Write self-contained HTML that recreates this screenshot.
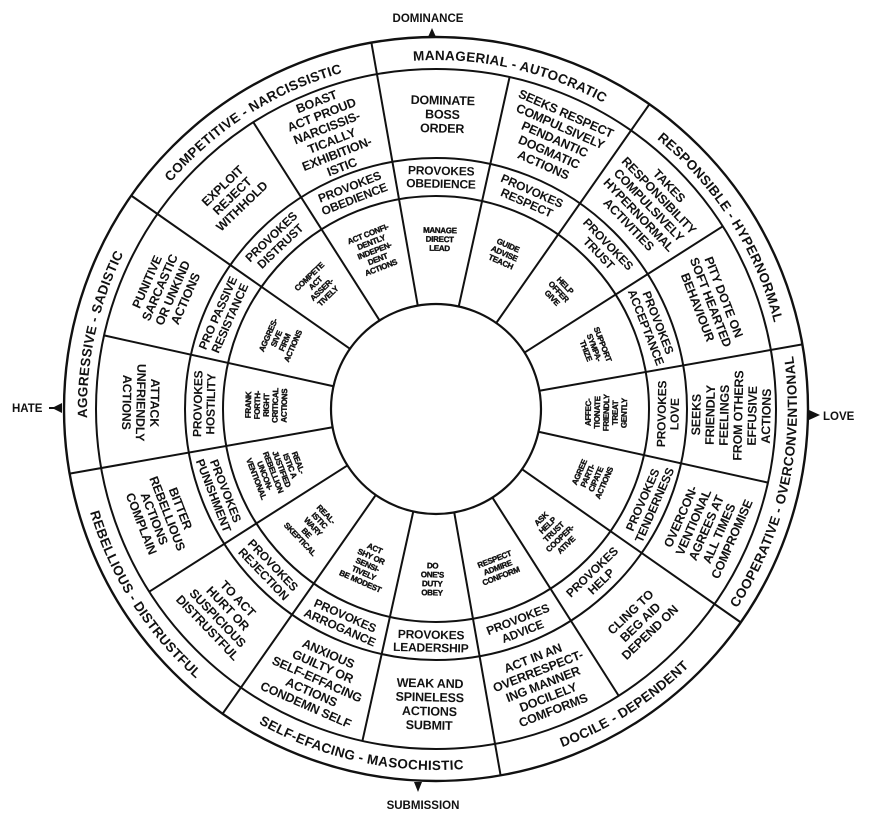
<!DOCTYPE html>
<html><head><meta charset="utf-8"><style>
html,body{margin:0;padding:0;background:#fff;}
svg{display:block;}
text{font-family:"Liberation Sans",Arial,sans-serif;font-weight:bold;fill:#111;}
.o{font-size:12.5px;letter-spacing:-0.2px;}
.p{font-size:12px;letter-spacing:-0.2px;}
.i{font-size:8px;letter-spacing:-0.3px;stroke:#111;stroke-width:0.35px;}
.b{font-size:13.5px;letter-spacing:0.3px;}
.ax{font-size:11.5px;}
</style></head><body>
<svg width="874" height="813" viewBox="0 0 874 813" xmlns="http://www.w3.org/2000/svg">
<rect width="874" height="813" fill="#fff"/>
<text class="ax" x="428" y="22" text-anchor="middle">DOMINANCE</text>
<polygon points="432,28 428,37 436,37" fill="#111"/>
<text class="ax" x="423" y="809" text-anchor="middle">SUBMISSION</text>
<polygon points="418,792 414,782 422,782" fill="#111"/>
<text class="ax" x="12" y="412">HATE</text>
<line x1="49" y1="408" x2="60" y2="408" stroke="#111" stroke-width="2"/>
<polygon points="52,408 62,403 62,413" fill="#111"/>
<text class="ax" x="823" y="420">LOVE</text>
<polygon points="820,415 809,410 809,420" fill="#111"/>

<g transform="translate(436 409)" stroke="#111" fill="none">
<circle r="372" stroke-width="2.4"/>
<circle r="340" stroke-width="2"/>
<circle r="251" stroke-width="2"/>
<circle r="213" stroke-width="2"/>
<circle r="105" stroke-width="2.2"/>
<g stroke-width="2">
<line x1="0" y1="-105" x2="0" y2="-372" transform="rotate(-10)"/>
<line x1="0" y1="-105" x2="0" y2="-340" transform="rotate(12.5)"/>
<line x1="0" y1="-105" x2="0" y2="-372" transform="rotate(35)"/>
<line x1="0" y1="-105" x2="0" y2="-340" transform="rotate(57.5)"/>
<line x1="0" y1="-105" x2="0" y2="-372" transform="rotate(80)"/>
<line x1="0" y1="-105" x2="0" y2="-340" transform="rotate(102.5)"/>
<line x1="0" y1="-105" x2="0" y2="-372" transform="rotate(125)"/>
<line x1="0" y1="-105" x2="0" y2="-340" transform="rotate(147.5)"/>
<line x1="0" y1="-105" x2="0" y2="-372" transform="rotate(170)"/>
<line x1="0" y1="-105" x2="0" y2="-340" transform="rotate(192.5)"/>
<line x1="0" y1="-105" x2="0" y2="-372" transform="rotate(215)"/>
<line x1="0" y1="-105" x2="0" y2="-340" transform="rotate(237.5)"/>
<line x1="0" y1="-105" x2="0" y2="-372" transform="rotate(260)"/>
<line x1="0" y1="-105" x2="0" y2="-340" transform="rotate(282.5)"/>
<line x1="0" y1="-105" x2="0" y2="-372" transform="rotate(305)"/>
<line x1="0" y1="-105" x2="0" y2="-340" transform="rotate(327.5)"/>
</g>
</g>

<defs>
<path id="cw" d="M 0,349 A 349 349 0 1 1 0,-349 A 349 349 0 1 1 0,349"/>
<path id="ccw" d="M 0,-361 A 361 361 0 1 0 0,361 A 361 361 0 1 0 0,-361"/>
</defs>

<g transform="translate(436 409)">
<g transform="rotate(12.5)"><text class="b"><textPath href="#cw" startOffset="50%" text-anchor="middle">MANAGERIAL - AUTOCRATIC</textPath></text></g>
<g transform="rotate(57.5)"><text class="b"><textPath href="#cw" startOffset="50%" text-anchor="middle">RESPONSIBLE - HYPERNORMAL</textPath></text></g>
<g transform="rotate(-77.5)"><text class="b"><textPath href="#ccw" startOffset="50%" text-anchor="middle">COOPERATIVE - OVERCONVENTIONAL</textPath></text></g>
<g transform="rotate(-32.5)"><text class="b"><textPath href="#ccw" startOffset="50%" text-anchor="middle">DOCILE - DEPENDENT</textPath></text></g>
<g transform="rotate(12.5)"><text class="b"><textPath href="#ccw" startOffset="50%" text-anchor="middle">SELF-EFACING - MASOCHISTIC</textPath></text></g>
<g transform="rotate(57.5)"><text class="b"><textPath href="#ccw" startOffset="50%" text-anchor="middle">REBELLIOUS - DISTRUSTFUL</textPath></text></g>
<g transform="rotate(282.5)"><text class="b"><textPath href="#cw" startOffset="50%" text-anchor="middle">AGGRESSIVE - SADISTIC</textPath></text></g>
<g transform="rotate(327.5)"><text class="b"><textPath href="#cw" startOffset="50%" text-anchor="middle">COMPETITIVE - NARCISSISTIC</textPath></text></g>

<g transform="rotate(1.25) translate(0 -295)"><text class="o" text-anchor="middle" y="-9.5"><tspan x="0">DOMINATE</tspan><tspan x="0" dy="14">BOSS</tspan><tspan x="0" dy="14">ORDER</tspan></text></g>
<g transform="rotate(1.25) translate(0 -232)"><text class="p" text-anchor="middle" y="-2.2"><tspan x="0">PROVOKES</tspan><tspan x="0" dy="13">OBEDIENCE</tspan></text></g>
<g transform="rotate(1.25) translate(0 -170)"><text class="i" text-anchor="middle" y="-6.1"><tspan x="0">MANAGE</tspan><tspan x="0" dy="9">DIRECT</tspan><tspan x="0" dy="9">LEAD</tspan></text></g>
<g transform="rotate(23.75) translate(0 -295)"><text class="o" text-anchor="middle" y="-23.5"><tspan x="0">SEEKS RESPECT</tspan><tspan x="0" dy="14">COMPULSIVELY</tspan><tspan x="0" dy="14">PENDANTIC</tspan><tspan x="0" dy="14">DOGMATIC</tspan><tspan x="0" dy="14">ACTIONS</tspan></text></g>
<g transform="rotate(23.75) translate(0 -232)"><text class="p" text-anchor="middle" y="-2.2"><tspan x="0">PROVOKES</tspan><tspan x="0" dy="13">RESPECT</tspan></text></g>
<g transform="rotate(23.75) translate(0 -170)"><text class="i" text-anchor="middle" y="-6.1"><tspan x="0">GUIDE</tspan><tspan x="0" dy="9">ADVISE</tspan><tspan x="0" dy="9">TEACH</tspan></text></g>
<g transform="rotate(46.25) translate(0 -295)"><text class="o" text-anchor="middle" y="-23.5"><tspan x="0">TAKES</tspan><tspan x="0" dy="14">RESPONSIBILITY</tspan><tspan x="0" dy="14">COMPULSIVELY</tspan><tspan x="0" dy="14">HYPERNORMAL</tspan><tspan x="0" dy="14">ACTIVITIES</tspan></text></g>
<g transform="rotate(46.25) translate(0 -232)"><text class="p" text-anchor="middle" y="-2.2"><tspan x="0">PROVOKES</tspan><tspan x="0" dy="13">TRUST</tspan></text></g>
<g transform="rotate(46.25) translate(0 -170)"><text class="i" text-anchor="middle" y="-6.1"><tspan x="0">HELP</tspan><tspan x="0" dy="9">OFFER</tspan><tspan x="0" dy="9">GIVE</tspan></text></g>
<g transform="rotate(68.75) translate(0 -295)"><text class="o" text-anchor="middle" y="-9.5"><tspan x="0">PITY DOTE ON</tspan><tspan x="0" dy="14">SOFT HEARTED</tspan><tspan x="0" dy="14">BEHAVIOUR</tspan></text></g>
<g transform="rotate(68.75) translate(0 -232)"><text class="p" text-anchor="middle" y="-2.2"><tspan x="0">PROVOKES</tspan><tspan x="0" dy="13">ACCEPTANCE</tspan></text></g>
<g transform="rotate(68.75) translate(0 -170)"><text class="i" text-anchor="middle" y="-6.1"><tspan x="0">SUPPORT</tspan><tspan x="0" dy="9">SYMPA-</tspan><tspan x="0" dy="9">THIZE</tspan></text></g>
<g transform="rotate(91.25) translate(0 -295) rotate(180)"><text class="o" text-anchor="middle" y="-30.5"><tspan x="0">SEEKS</tspan><tspan x="0" dy="14">FRIENDLY</tspan><tspan x="0" dy="14">FEELINGS</tspan><tspan x="0" dy="14">FROM OTHERS</tspan><tspan x="0" dy="14">EFFUSIVE</tspan><tspan x="0" dy="14">ACTIONS</tspan></text></g>
<g transform="rotate(91.25) translate(0 -232) rotate(180)"><text class="p" text-anchor="middle" y="-2.2"><tspan x="0">PROVOKES</tspan><tspan x="0" dy="13">LOVE</tspan></text></g>
<g transform="rotate(91.25) translate(0 -170) rotate(180)"><text class="i" text-anchor="middle" y="-15.1"><tspan x="0">AFFEC-</tspan><tspan x="0" dy="9">TIONATE</tspan><tspan x="0" dy="9">FRIENDLY</tspan><tspan x="0" dy="9">TREAT</tspan><tspan x="0" dy="9">GENTLY</tspan></text></g>
<g transform="rotate(113.75) translate(0 -295) rotate(180)"><text class="o" text-anchor="middle" y="-23.5"><tspan x="0">OVERCON-</tspan><tspan x="0" dy="14">VENTIONAL</tspan><tspan x="0" dy="14">AGREES AT</tspan><tspan x="0" dy="14">ALL TIMES</tspan><tspan x="0" dy="14">COMPROMISE</tspan></text></g>
<g transform="rotate(113.75) translate(0 -232) rotate(180)"><text class="p" text-anchor="middle" y="-2.2"><tspan x="0">PROVOKES</tspan><tspan x="0" dy="13">TENDERNESS</tspan></text></g>
<g transform="rotate(113.75) translate(0 -170) rotate(180)"><text class="i" text-anchor="middle" y="-10.6"><tspan x="0">AGREE</tspan><tspan x="0" dy="9">PARTI-</tspan><tspan x="0" dy="9">CIPATE</tspan><tspan x="0" dy="9">ACTIONS</tspan></text></g>
<g transform="rotate(136.25) translate(0 -295) rotate(180)"><text class="o" text-anchor="middle" y="-9.5"><tspan x="0">CLING TO</tspan><tspan x="0" dy="14">BEG AID</tspan><tspan x="0" dy="14">DEPEND ON</tspan></text></g>
<g transform="rotate(136.25) translate(0 -232) rotate(180)"><text class="p" text-anchor="middle" y="-2.2"><tspan x="0">PROVOKES</tspan><tspan x="0" dy="13">HELP</tspan></text></g>
<g transform="rotate(136.25) translate(0 -170) rotate(180)"><text class="i" text-anchor="middle" y="-15.1"><tspan x="0">ASK</tspan><tspan x="0" dy="9">HELP</tspan><tspan x="0" dy="9">TRUST</tspan><tspan x="0" dy="9">COOPER-</tspan><tspan x="0" dy="9">ATIVE</tspan></text></g>
<g transform="rotate(158.75) translate(0 -295) rotate(180)"><text class="o" text-anchor="middle" y="-23.5"><tspan x="0">ACT IN AN</tspan><tspan x="0" dy="14">OVERRESPECT-</tspan><tspan x="0" dy="14">ING MANNER</tspan><tspan x="0" dy="14">DOCILELY</tspan><tspan x="0" dy="14">COMFORMS</tspan></text></g>
<g transform="rotate(158.75) translate(0 -232) rotate(180)"><text class="p" text-anchor="middle" y="-2.2"><tspan x="0">PROVOKES</tspan><tspan x="0" dy="13">ADVICE</tspan></text></g>
<g transform="rotate(158.75) translate(0 -170) rotate(180)"><text class="i" text-anchor="middle" y="-6.1"><tspan x="0">RESPECT</tspan><tspan x="0" dy="9">ADMIRE</tspan><tspan x="0" dy="9">CONFORM</tspan></text></g>
<g transform="rotate(181.25) translate(0 -295) rotate(180)"><text class="o" text-anchor="middle" y="-16.5"><tspan x="0">WEAK AND</tspan><tspan x="0" dy="14">SPINELESS</tspan><tspan x="0" dy="14">ACTIONS</tspan><tspan x="0" dy="14">SUBMIT</tspan></text></g>
<g transform="rotate(181.25) translate(0 -232) rotate(180)"><text class="p" text-anchor="middle" y="-2.2"><tspan x="0">PROVOKES</tspan><tspan x="0" dy="13">LEADERSHIP</tspan></text></g>
<g transform="rotate(181.25) translate(0 -170) rotate(180)"><text class="i" text-anchor="middle" y="-10.6"><tspan x="0">DO</tspan><tspan x="0" dy="9">ONE'S</tspan><tspan x="0" dy="9">DUTY</tspan><tspan x="0" dy="9">OBEY</tspan></text></g>
<g transform="rotate(203.75) translate(0 -295) rotate(180)"><text class="o" text-anchor="middle" y="-23.5"><tspan x="0">ANXIOUS</tspan><tspan x="0" dy="14">GUILTY OR</tspan><tspan x="0" dy="14">SELF-EFFACING</tspan><tspan x="0" dy="14">ACTIONS</tspan><tspan x="0" dy="14">CONDEMN SELF</tspan></text></g>
<g transform="rotate(203.75) translate(0 -232) rotate(180)"><text class="p" text-anchor="middle" y="-2.2"><tspan x="0">PROVOKES</tspan><tspan x="0" dy="13">ARROGANCE</tspan></text></g>
<g transform="rotate(203.75) translate(0 -170) rotate(180)"><text class="i" text-anchor="middle" y="-15.1"><tspan x="0">ACT</tspan><tspan x="0" dy="9">SHY OR</tspan><tspan x="0" dy="9">SENSI-</tspan><tspan x="0" dy="9">TIVELY</tspan><tspan x="0" dy="9">BE MODEST</tspan></text></g>
<g transform="rotate(226.25) translate(0 -295) rotate(180)"><text class="o" text-anchor="middle" y="-16.5"><tspan x="0">TO ACT</tspan><tspan x="0" dy="14">HURT OR</tspan><tspan x="0" dy="14">SUSPICIOUS</tspan><tspan x="0" dy="14">DISTRUSTFUL</tspan></text></g>
<g transform="rotate(226.25) translate(0 -232) rotate(180)"><text class="p" text-anchor="middle" y="-2.2"><tspan x="0">PROVOKES</tspan><tspan x="0" dy="13">REJECTION</tspan></text></g>
<g transform="rotate(226.25) translate(0 -170) rotate(180)"><text class="i" text-anchor="middle" y="-15.1"><tspan x="0">REAL-</tspan><tspan x="0" dy="9">ISTIC</tspan><tspan x="0" dy="9">WARY</tspan><tspan x="0" dy="9">BE</tspan><tspan x="0" dy="9">SKEPTICAL</tspan></text></g>
<g transform="rotate(248.75) translate(0 -295) rotate(180)"><text class="o" text-anchor="middle" y="-16.5"><tspan x="0">BITTER</tspan><tspan x="0" dy="14">REBELLIOUS</tspan><tspan x="0" dy="14">ACTIONS</tspan><tspan x="0" dy="14">COMPLAIN</tspan></text></g>
<g transform="rotate(248.75) translate(0 -232) rotate(180)"><text class="p" text-anchor="middle" y="-2.2"><tspan x="0">PROVOKES</tspan><tspan x="0" dy="13">PUNISHMENT</tspan></text></g>
<g transform="rotate(248.75) translate(0 -170) rotate(180)"><text class="i" text-anchor="middle" y="-19.6"><tspan x="0">REAL-</tspan><tspan x="0" dy="9">ISTIC A</tspan><tspan x="0" dy="9">JUSTIFIED</tspan><tspan x="0" dy="9">REBELLION</tspan><tspan x="0" dy="9">UNCON-</tspan><tspan x="0" dy="9">VENTIONAL</tspan></text></g>
<g transform="rotate(271.25) translate(0 -295) rotate(180)"><text class="o" text-anchor="middle" y="-9.5"><tspan x="0">ATTACK</tspan><tspan x="0" dy="14">UNFRIENDLY</tspan><tspan x="0" dy="14">ACTIONS</tspan></text></g>
<g transform="rotate(271.25) translate(0 -232)"><text class="p" text-anchor="middle" y="-2.2"><tspan x="0">PROVOKES</tspan><tspan x="0" dy="13">HOSTILITY</tspan></text></g>
<g transform="rotate(271.25) translate(0 -170)"><text class="i" text-anchor="middle" y="-15.1"><tspan x="0">FRANK</tspan><tspan x="0" dy="9">FORTH-</tspan><tspan x="0" dy="9">RIGHT</tspan><tspan x="0" dy="9">CRITICAL</tspan><tspan x="0" dy="9">ACTIONS</tspan></text></g>
<g transform="rotate(293.75) translate(0 -295)"><text class="o" text-anchor="middle" y="-16.5"><tspan x="0">PUNITIVE</tspan><tspan x="0" dy="14">SARCASTIC</tspan><tspan x="0" dy="14">OR UNKIND</tspan><tspan x="0" dy="14">ACTIONS</tspan></text></g>
<g transform="rotate(293.75) translate(0 -232)"><text class="p" text-anchor="middle" y="-2.2"><tspan x="0">PRO PASSIVE</tspan><tspan x="0" dy="13">RESISTANCE</tspan></text></g>
<g transform="rotate(293.75) translate(0 -170)"><text class="i" text-anchor="middle" y="-10.6"><tspan x="0">AGGRES-</tspan><tspan x="0" dy="9">SIVE</tspan><tspan x="0" dy="9">FIRM</tspan><tspan x="0" dy="9">ACTIONS</tspan></text></g>
<g transform="rotate(316.25) translate(0 -295)"><text class="o" text-anchor="middle" y="-9.5"><tspan x="0">EXPLOIT</tspan><tspan x="0" dy="14">REJECT</tspan><tspan x="0" dy="14">WITHHOLD</tspan></text></g>
<g transform="rotate(316.25) translate(0 -232)"><text class="p" text-anchor="middle" y="-2.2"><tspan x="0">PROVOKES</tspan><tspan x="0" dy="13">DISTRUST</tspan></text></g>
<g transform="rotate(316.25) translate(0 -170)"><text class="i" text-anchor="middle" y="-10.6"><tspan x="0">COMPETE</tspan><tspan x="0" dy="9">ACT</tspan><tspan x="0" dy="9">ASSER-</tspan><tspan x="0" dy="9">TIVELY</tspan></text></g>
<g transform="rotate(338.75) translate(0 -295)"><text class="o" text-anchor="middle" y="-30.5"><tspan x="0">BOAST</tspan><tspan x="0" dy="14">ACT PROUD</tspan><tspan x="0" dy="14">NARCISSIS-</tspan><tspan x="0" dy="14">TICALLY</tspan><tspan x="0" dy="14">EXHIBITION-</tspan><tspan x="0" dy="14">ISTIC</tspan></text></g>
<g transform="rotate(338.75) translate(0 -232)"><text class="p" text-anchor="middle" y="-2.2"><tspan x="0">PROVOKES</tspan><tspan x="0" dy="13">OBEDIENCE</tspan></text></g>
<g transform="rotate(338.75) translate(0 -170)"><text class="i" text-anchor="middle" y="-15.1"><tspan x="0">ACT CONFI-</tspan><tspan x="0" dy="9">DENTLY</tspan><tspan x="0" dy="9">INDEPEN-</tspan><tspan x="0" dy="9">DENT</tspan><tspan x="0" dy="9">ACTIONS</tspan></text></g>
</g>
</svg>
</body></html>
